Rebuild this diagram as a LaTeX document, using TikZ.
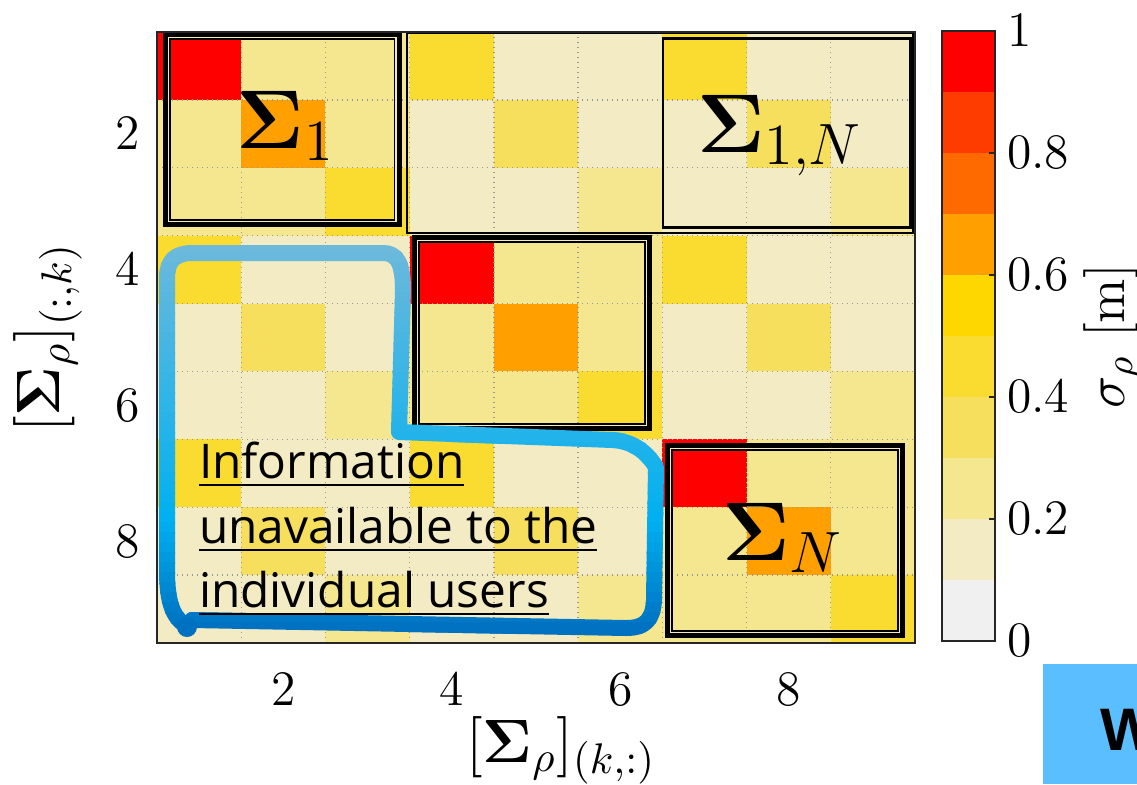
\RequirePackage{fix-cm}
\documentclass[tikz,border=0pt]{standalone}
\usepackage{amsmath,bm}
\usepackage[no-math]{fontspec}
\newfontfamily\infofont{Open Sans}
\newfontfamily\markfont{Liberation Sans}

% cell colours of the covariance map
\definecolor{cellR}{HTML}{FF0000}
\definecolor{cellO}{HTML}{FFA000}
\definecolor{cellY}{HTML}{FADB30}
\definecolor{cellM}{HTML}{F7DF5E}
\definecolor{cellL}{HTML}{F5E690}
\definecolor{cellC}{HTML}{F2EBC4}
% colour bar bands, bottom to top
\definecolor{cbar0}{HTML}{F0F0F0}
\definecolor{cbar1}{HTML}{F2EBC4}
\definecolor{cbar2}{HTML}{F5E690}
\definecolor{cbar3}{HTML}{F7DF5E}
\definecolor{cbar4}{HTML}{FADB30}
\definecolor{cbar5}{HTML}{FFD700}
\definecolor{cbar6}{HTML}{FFA000}
\definecolor{cbar7}{HTML}{FF6A00}
\definecolor{cbar8}{HTML}{FF3C00}
\definecolor{cbar9}{HTML}{FF0000}
\definecolor{axisgray}{HTML}{262626}
\definecolor{gridgray}{HTML}{989898}
\definecolor{framegap}{HTML}{F3EAB8}
\definecolor{blueTop}{HTML}{6CB9DC}
\definecolor{blueMid}{HTML}{00B0F0}
\definecolor{blueBot}{HTML}{0070C0}
\definecolor{tagblue}{HTML}{5BBEFF}

\newcommand\tickfont{\fontsize{12.4}{14}\selectfont}
\newcommand\labfont{\fontsize{15.3}{18}\selectfont}
\newcommand\bigfont{\fontsize{20.8}{24}\selectfont}

% thick-thin frame around a diagonal block
\newcommand\blockframe[4]{%
  \draw[line width=1.25pt] ({#1+2.5},{#2+2.5}) rectangle ({#3-2.5},{#4-2.5});
  \draw[framegap,line width=0.3pt] ({#1+5.5},{#2+5.5}) rectangle ({#3-5.5},{#4-5.5});
  \draw[line width=0.45pt] ({#1+7},{#2+7}) rectangle ({#3-7},{#4-7});
}

\tikzset{
  x=0.25pt, y=-0.25pt,
  every node/.style={inner sep=0pt, outer sep=0pt},
  gridline/.style={gridgray, line width=0.35pt, dash pattern=on 0.3pt off 0.95pt},
  axisframe/.style={axisgray, line width=0.5pt},
  blueline/.style={line width=4pt, line cap=round, line join=round},
}

\begin{document}
\begin{tikzpicture}
\useasboundingbox (0,0) rectangle (1137,784);

% ---- covariance cells ----
\foreach \row [count=\r] in {
  {R,L,L,Y,C,C,Y,C,C},
  {L,O,L,C,M,C,C,M,C},
  {L,L,Y,C,C,L,C,C,L},
  {Y,C,C,R,L,L,Y,C,C},
  {C,M,C,L,O,L,C,M,C},
  {C,C,L,L,L,Y,C,C,L},
  {Y,C,C,Y,C,C,R,L,L},
  {C,M,C,C,M,C,L,O,L},
  {C,C,L,C,C,L,L,L,Y}}{
  \foreach \c [count=\k] in \row {
    \fill[cell\c] ({157+(\k-1)*84.22},{32+(\r-1)*67.89}) rectangle ++(84.6,68.2);
  }
}

% ---- dotted grid ----
\foreach \i in {1,...,8}{
  \draw[gridline] ({157+\i*84.22},32) -- ({157+\i*84.22},643);
  \draw[gridline] (157,{32+\i*67.89}) -- (915,{32+\i*67.89});
}

% ---- block frames ----
\draw[black, line width=0.58pt] (407.3,32.8) rectangle (913,232.8);
\draw[black, line width=0.62pt] (663,38.7) rectangle (910.3,227.3);
\blockframe{163}{32}{401.5}{227}
\blockframe{412}{235}{652}{431}
\blockframe{665}{443}{905}{638}

% ---- block names ----
\node[anchor=base west, font=\bigfont] (s1) at (237,148) {$\bm{\Sigma}_1$};
\node[anchor=base west, font=\bigfont] (s1N) at (697,152) {$\bm{\Sigma}_{1,N}$};
\node[anchor=base west, font=\bigfont] (sN) at (722,560) {$\bm{\Sigma}_N$};

% ---- hand-drawn outline with vertical colour gradient ----
\path[save path=\bluepath]
  (187,626) .. controls (172,618) and (167,600) .. (167,570)
  -- (167,278)
  .. controls (167,261) and (175,253) .. (192,253)
  -- (383,253)
  .. controls (397,253) and (403,263) .. (403,290)
  -- (399,432)
  -- (612,440)
  .. controls (632,441) and (646,451) .. (656,467)
  -- (654,600)
  .. controls (653,620) and (645,628) .. (626,628)
  -- (192,620);
\foreach \i in {0,...,42}{
  \pgfmathsetmacro\ya{232+\i*10}
  \pgfmathsetmacro\yb{\ya+11}
  \pgfmathsetmacro\ym{\ya+5}
  \pgfmathsetmacro\pa{max(0,min(100,(520-\ym)/270*100))}
  \pgfmathsetmacro\pb{max(0,min(100,(\ym-520)/110*100))}
  \ifdim\ym pt<520pt \colorlet{bandblue}{blueTop!\pa!blueMid}\else\colorlet{bandblue}{blueBot!\pb!blueMid}\fi
  \begin{scope}
    \clip (130,\ya) rectangle (690,\yb);
    \draw[blueline, draw=bandblue, use path=\bluepath];
  \end{scope}
}
\fill[blueBot] (187,627) circle (10);

% ---- annotation ----
\begin{scope}[font={\infofont\fontsize{11.95}{16}\selectfont}]
  \node[anchor=base west] (info1) at (199,478) {\underline{Information}};
  \node[anchor=base west] (info2) at (199,543) {\underline{unavailable to the}};
  \node[anchor=base west] (info3) at (199,607) {\underline{individual users}};
\end{scope}

% ---- axes frame and labels ----
\draw[axisframe] (157,32) rectangle (915,643);
\foreach \k in {2,4,6,8}{
  \node[anchor=base, font=\tickfont] (xt\k) at ({157+(\k-0.5)*84.22},705) {$\k$};
  \node[anchor=east, font=\tickfont] (yt\k) at (140,{32+(\k-0.5)*67.89}) {$\k$};
}
\node[anchor=base, font=\labfont] (xlab) at (561,762) {$[\bm{\Sigma}_\rho]_{(k,:)}$};
\node[anchor=base, font=\labfont, rotate=90] (ylab) at (60,338) {$[\bm{\Sigma}_\rho]_{(:,k)}$};

% ---- colour bar ----
\foreach \i in {0,...,9}{
  \fill[cbar\i] (942,{641-(\i+1)*61}) rectangle (995,{641-\i*61});
}
\draw[axisframe] (942,31) rectangle (995,641);
\foreach \v in {0.2,0.4,0.6,0.8}{
  \draw[axisgray, line width=0.4pt] (995,{641-\v*610}) -- ++(-6,0);
}
\foreach \v/\t [count=\n] in {0/0,0.2/0.2,0.4/0.4,0.6/0.6,0.8/0.8,1/1}{
  \node[anchor=west, font=\tickfont] (cb\n) at (1007,{641-\v*610}) {$\t$};
}
\node[anchor=base, font={\fontsize{13.6}{16}\selectfont}, rotate=90] (cblab) at (1124,336) {$\sigma_\rho\ [\mathrm{m}]$};

% ---- corner tag ----
\begin{scope}
  \clip (1043,664) rectangle (1137,784);
  \fill[tagblue] (1043,664) rectangle (1137,784);
  \node[anchor=base west, font={\markfont\bfseries\fontsize{15}{18}\selectfont}] (tagW) at (1100,750) {W};
\end{scope}
\end{tikzpicture}
\end{document}
